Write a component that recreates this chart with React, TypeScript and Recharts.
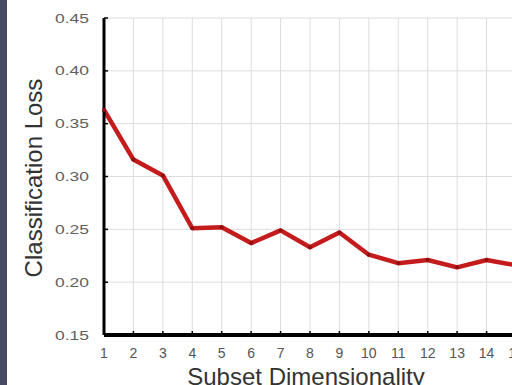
import React from 'react';
import { LineChart, Line, XAxis, YAxis, CartesianGrid, Label } from 'recharts';

// Subset sizes on the x axis
const dims = [1, 2, 3, 4, 5, 6, 7, 8, 9, 10, 11, 12, 13, 14, 15];
// Classification loss for each subset size
const loss = [0.363, 0.316, 0.301, 0.251, 0.252, 0.237, 0.249, 0.233, 0.247, 0.226, 0.218, 0.221, 0.214, 0.221, 0.216];
// Y axis tick values
const yTicks = [0.15, 0.2, 0.25, 0.3, 0.35, 0.4, 0.45];

const data = dims.map((d, i) => ({ dim: d, loss: loss[i] }));

const FONT = '"Liberation Sans", Arial, sans-serif';

const YTick = (props: any) => {
  const { x, y, payload } = props;
  return (
    <g>
      <line x1={x} x2={x + 4} y1={y} y2={y} stroke="#000" strokeWidth={1.5} />
      <text
        x={x - 15}
        y={y}
        dy={4.5}
        textAnchor="end"
        fontSize={12.5}
        fontFamily={FONT}
        fill="#606060"
        textLength={34}
        lengthAdjust="spacingAndGlyphs"
      >
        {Number(payload.value).toFixed(2)}
      </text>
    </g>
  );
};

const XTick = (props: any) => {
  const { x, y, payload } = props;
  return (
    <g>
      <line x1={x} x2={x} y1={y} y2={y - 4} stroke="#000" strokeWidth={1.5} />
      <text x={x} y={y + 23} textAnchor="middle" fontSize={14} fontFamily={FONT} fill="#555">
        {payload.value}
      </text>
    </g>
  );
};

const YTitle = (props: any) => {
  const vb = props.viewBox || {};
  const cx = (vb.x ?? 0) + 42;
  const cy = (vb.y ?? 0) + (vb.height ?? 0) / 2 + 1.5;
  return (
    <text
      x={cx}
      y={cy}
      transform={`rotate(-90 ${cx} ${cy})`}
      textAnchor="middle"
      fontSize={24}
      fontFamily={FONT}
      fill="#333"
    >
      Classification Loss
    </text>
  );
};

export default function App() {
  return (
    <div
      style={{
        position: 'fixed',
        left: 0,
        top: 0,
        width: 512,
        height: 385,
        overflow: 'hidden',
        background: '#fff',
      }}
    >
      <div style={{ position: 'absolute', left: 0, top: 0, width: 7, height: 385, background: '#464a62' }} />
      <LineChart width={540} height={385} data={data} margin={{ top: 18, right: 24, left: 0, bottom: 0 }}>
        <CartesianGrid stroke="#dcdcdc" strokeWidth={1} />
        <XAxis
          dataKey="dim"
          type="number"
          domain={[1, 15]}
          ticks={dims}
          interval={0}
          height={50}
          tickSize={0}
          tickMargin={0}
          tickLine={false}
          tick={XTick}
          axisLine={{ stroke: '#000', strokeWidth: 4 }}
        >
          <Label
            value="Subset Dimensionality"
            position="insideBottom"
            offset={0}
            dx={-4}
            fontSize={24}
            fontFamily={FONT}
            fill="#333"
          />
        </XAxis>
        <YAxis
          type="number"
          domain={[0.15, 0.45]}
          ticks={yTicks}
          interval={0}
          width={104}
          tickSize={0}
          tickMargin={0}
          tickLine={false}
          tick={YTick}
          axisLine={{ stroke: '#000', strokeWidth: 3 }}
        >
          <Label content={YTitle} />
        </YAxis>
        <Line
          type="linear"
          dataKey="loss"
          stroke="#c41c1c"
          strokeWidth={4.5}
          strokeLinejoin="round"
          dot={{ r: 2, fill: '#8e1010', stroke: 'none' }}
          isAnimationActive={false}
        />
      </LineChart>
    </div>
  );
}
